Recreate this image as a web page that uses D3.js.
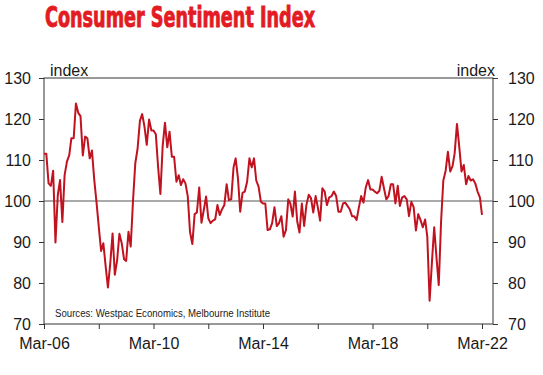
<!DOCTYPE html>
<html>
<head>
<meta charset="utf-8">
<script src="https://cdn.jsdelivr.net/npm/d3@7"></script>
<style>
  body { margin: 0; background: #fff; }
  svg { display: block; }
  text { font-family: "Liberation Sans", Arial, sans-serif; }
</style>
</head>
<body>
<svg id="chart" width="543" height="375"></svg>
<script>
// Monthly index, Mar-06 .. Mar-22
const startMonth = new Date(2006, 2, 1);
const sentiment = [
  111.5, 111.5, 104.3, 103.7, 107.4, 89.9, 101.4, 105.1, 94.9, 106.3, 109.6, 111.2,
  115.3, 115.3, 123.8, 121.5, 120.7, 111.1, 115.7, 115.3, 110.4, 112.3, 105.1, 99.4,
  93.7, 87.8, 89.7, 84.0, 78.9, 84.8, 92.1, 82.0, 85.6, 92.0, 89.7, 85.8,
  85.4, 92.5, 88.9, 100.2, 109.2, 112.8, 119.6, 121.2, 118.1, 113.7, 119.9, 117.2,
  117.2, 116.3, 108.4, 101.7, 113.3, 119.1, 113.1, 116.9, 110.8, 110.8, 104.7, 106.3,
  103.9, 105.3, 104.3, 101.2, 92.5, 89.5, 96.8, 97.2, 103.3, 94.7, 97.8, 101.1,
  95.8, 94.6, 95.2, 95.5, 99.0, 96.6, 98.0, 99.0, 104.1, 100.2, 100.4, 108.2,
  110.4, 105.5, 97.4, 102.0, 102.3, 104.7, 110.4, 108.2, 110.4, 105.0, 103.5, 99.8,
  99.4, 99.4, 92.9, 93.1, 94.6, 98.5, 93.9, 94.6, 96.3, 91.3, 92.9, 100.4,
  99.4, 96.2, 102.3, 95.0, 92.3, 99.4, 93.9, 99.0, 101.5, 100.7, 97.2, 101.2,
  98.5, 95.2, 103.1, 102.3, 99.0, 100.9, 101.2, 102.3, 101.2, 97.4, 97.4, 99.4,
  99.6, 98.8, 98.0, 96.3, 96.3, 95.4, 98.5, 101.2, 99.6, 103.3, 105.1, 102.8,
  102.8, 102.3, 101.9, 102.5, 105.9, 103.1, 100.4, 101.2, 104.1, 104.1, 99.4, 103.7,
  98.8, 100.9, 101.2, 100.4, 96.3, 99.8, 98.5, 92.8, 96.8, 95.4, 93.6, 95.5,
  91.3, 75.7, 84.8, 93.6, 86.4, 79.5, 95.0, 105.0, 107.4, 112.0, 107.2, 108.5,
  111.6, 118.8, 113.3, 107.2, 108.8, 104.1, 106.1, 105.0, 105.3, 104.3, 102.3, 100.9,
  96.6
];
const yTicks = [70, 80, 90, 100, 110, 120, 130];
const xTickYears = [2006, 2008, 2010, 2012, 2014, 2016, 2018, 2020, 2022];
const xLabelYears = [2006, 2010, 2014, 2018, 2022];

const plotLeft = 44, plotRight = 493, plotTop = 78, plotBottom = 324;
const svg = d3.select("#chart");

const x = d3.scaleTime()
  .domain([new Date(2006, 2, 1), new Date(2022, 2, 1)])
  .range([plotLeft, 482]);
const y = d3.scaleLinear().domain([70, 130]).range([plotBottom, plotTop]);

// Title
svg.append("text")
  .attr("x", 45).attr("y", 27)
  .attr("textLength", 270).attr("lengthAdjust", "spacingAndGlyphs")
  .style("font-family", "'Liberation Sans Narrow', 'DejaVu Sans Condensed', sans-serif")
  .style("font-weight", "bold")
  .style("font-size", "28px")
  .attr("fill", "#e31b23")
  .attr("stroke", "#e31b23").attr("stroke-width", 0.9)
  .text("Consumer Sentiment Index");

function styleAxis(g) {
  g.select(".domain").remove();
  g.selectAll(".tick line").attr("stroke", "#333");
  g.selectAll(".tick text")
    .attr("fill", "#1a1a1a")
    .style("font-size", "16px")
    .style("font-family", "'Liberation Sans', Arial, sans-serif");
}

svg.append("g")
  .attr("transform", `translate(${plotLeft},0)`)
  .call(d3.axisLeft(y).tickValues(yTicks).tickSize(5).tickPadding(8))
  .call(styleAxis);

svg.append("g")
  .attr("transform", `translate(${plotRight},0)`)
  .call(d3.axisRight(y).tickValues(yTicks).tickSize(5).tickPadding(10))
  .call(styleAxis);

const fmt = d3.timeFormat("%b-%y");
svg.append("g")
  .attr("transform", `translate(0,${plotBottom})`)
  .call(d3.axisBottom(x)
    .tickValues(xTickYears.map(yr => new Date(yr, 2, 1)))
    .tickSize(5).tickPadding(9)
    .tickFormat(d => xLabelYears.includes(d.getFullYear()) ? fmt(d) : ""))
  .call(styleAxis);

// Frame
svg.append("rect")
  .attr("x", plotLeft).attr("y", plotTop)
  .attr("width", plotRight - plotLeft).attr("height", plotBottom - plotTop)
  .attr("fill", "none").attr("stroke", "#333").attr("stroke-width", 1);

// 100 reference line
svg.append("line")
  .attr("x1", plotLeft).attr("x2", plotRight)
  .attr("y1", y(100)).attr("y2", y(100))
  .attr("stroke", "#555").attr("stroke-width", 1);

// unit labels
svg.append("text").attr("x", 50).attr("y", 76)
  .style("font-size", "16px").attr("fill", "#1a1a1a").text("index");
svg.append("text").attr("x", 495).attr("y", 76).attr("text-anchor", "end")
  .style("font-size", "16px").attr("fill", "#1a1a1a").text("index");

// Series
const line = d3.line()
  .x((d, i) => x(d3.timeMonth.offset(startMonth, i)))
  .y(d => y(d));

svg.append("path")
  .datum(sentiment)
  .attr("d", line)
  .attr("fill", "none")
  .attr("stroke", "#c1121f")
  .attr("stroke-width", 2)
  .attr("stroke-linejoin", "round");

svg.append("text").attr("x", 55).attr("y", 317)
  .attr("textLength", 215).attr("lengthAdjust", "spacingAndGlyphs")
  .style("font-size", "10px").attr("fill", "#222")
  .text("Sources: Westpac Economics, Melbourne Institute");
</script>
</body>
</html>
